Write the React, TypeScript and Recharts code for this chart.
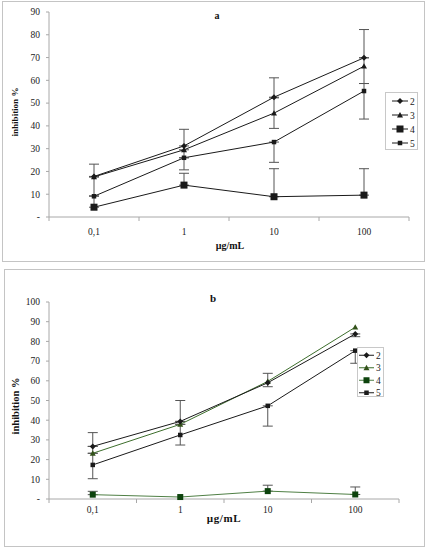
import React from 'react';
import { LineChart, Line, XAxis, YAxis, ErrorBar, Legend } from 'recharts';

// x categories (log concentration steps)
const categories = ['0,1', '1', '10', '100'];

// panel a
const a2 = [17.8, 31.2, 52.6, 69.9];
const a3 = [17.6, 29.5, 45.6, 66.2];
const a4 = [4.3, 14, 8.9, 9.6];
const a5 = [9.1, 26, 32.9, 55.3];
// error bars as [minus, plus]
const a2Err = [[0, 5.4], [0, 7.3], [0, 8.5], [0, 12.4]];
const a3Err = [[0, 0.2], [3.5, 0], [6.7, 6.7], [7.6, 3.7]];
const a4Err = [[0, 13.3], [0, 5.2], [0, 12.3], [0, 11.6]];
const a5Err = [[0, 0.2], [5.3, 0], [8.9, 0], [12.3, 3.3]];
const aTicks = [0, 10, 20, 30, 40, 50, 60, 70, 80, 90];

// panel b
const b2 = [26.7, 39.4, 59, 83.8];
const b3 = [23.2, 37.9, 59.7, 87.2];
const b4 = [2.2, 1, 4, 2.3];
const b5 = [17.3, 32.5, 47.3, 75.3];
const b2Err = [[0, 7], [0, 10.6], [2, 4.8], [1.4, 0]];
const b3Err = [[0, 3.5], [0, 1.5], null, null];
const b4Err = [[0, 1.7], null, [0, 3], [0, 3.8]];
const b5Err = [[7, 5.9], [5.1, 5.4], [10.3, 0], [6.4, 0]];
const bTicks = [0, 10, 20, 30, 40, 50, 60, 70, 80, 90, 100];

const seriesNames = ['2', '3', '4', '5'];

const xTicks = [-0.5, 0, 0.5, 1, 1.5, 2, 2.5, 3, 3.5];

const build = (s2, s3, s4, s5, e2, e3, e4, e5) =>
  categories.map((c, i) => ({
    x: i,
    label: c,
    s2: s2[i], s3: s3[i], s4: s4[i], s5: s5[i],
    e2: e2[i], e3: e3[i], e4: e4[i], e5: e5[i],
  }));

const dataA = build(a2, a3, a4, a5, a2Err, a3Err, a4Err, a5Err);
const dataB = build(b2, b3, b4, b5, b2Err, b3Err, b4Err, b5Err);

const AXIS = '#a8a8a8';
const ERR = '#555';
const FONT = '"Liberation Serif", "Times New Roman", serif';

function marker(kind, cx, cy, fill, big) {
  if (cx == null || cy == null) return null;
  if (kind === '2') {
    const r = 3;
    return <path d={`M${cx},${cy - r}L${cx + r},${cy}L${cx},${cy + r}L${cx - r},${cy}Z`} fill={fill} />;
  }
  if (kind === '3') {
    const r = 3;
    return <path d={`M${cx},${cy - r}L${cx + r},${cy + r * 0.8}L${cx - r},${cy + r * 0.8}Z`} fill={fill} />;
  }
  if (kind === '4') {
    const s = big;
    return <rect x={cx - s / 2} y={cy - s / 2} width={s} height={s} fill={fill} />;
  }
  const s = 4.5;
  return <rect x={cx - s / 2} y={cy - s / 2} width={s} height={s} fill={fill} />;
}

const makeDot = (kind, fill, big) => (props) => (
  <g key={`${kind}-${props.index}`}>{marker(kind, props.cx, props.cy, fill, big)}</g>
);

const makeTick = (dy) => (props) => {
  const { x, y, payload } = props;
  const v = payload.value;
  if (Number.isInteger(v)) {
    return (
      <text x={x} y={y + dy} textAnchor="middle" fontSize={9.5} fill="#222" fontFamily={FONT}>
        {categories[v]}
      </text>
    );
  }
  return <line x1={x} x2={x} y1={y} y2={y + 4} stroke={AXIS} />;
};

const makeLegend = (colors, marks, big, lg) => () => (
  <div style={{ width: lg.w, height: lg.h, border: '1px solid #c8c8c8', background: '#fff', boxSizing: 'border-box' }}>
    <svg width={lg.w - 2} height={lg.h - 2} style={{ overflow: 'visible', display: 'block' }}>
      {seriesNames.map((n, i) => {
        const cy = lg.rowH / 2 + 1 + i * lg.rowH;
        return (
          <g key={n}>
            <line x1={lg.x1} x2={lg.x2} y1={cy} y2={cy} stroke={colors[i]} />
            {marker(n, (lg.x1 + lg.x2) / 2, cy, marks[i], big)}
            <text x={lg.tx} y={cy + 3.5} fontSize={9.5} fontFamily={FONT} fill="#222">{n}</text>
          </g>
        );
      })}
    </svg>
  </div>
);

function Panel({ data, width, height, margin, yMax, yTicks, tickDy, colors, marks, big, legend }) {
  const keys = ['s4', 's5', 's3', 's2'];
  const errs = { s2: 'e2', s3: 'e3', s4: 'e4', s5: 'e5' };
  const idx = { s2: 0, s3: 1, s4: 2, s5: 3 };
  return (
    <LineChart width={width} height={height} data={data} margin={margin}>
      <XAxis
        dataKey="x"
        type="number"
        domain={[-0.5, 3.5]}
        ticks={xTicks}
        interval={0}
        tickSize={0}
        tickMargin={0}
        tickLine={false}
        tick={makeTick(tickDy)}
        axisLine={{ stroke: AXIS }}
        height={legend.xh}
      />
      <YAxis
        type="number"
        domain={[0, yMax]}
        ticks={yTicks}
        interval={0}
        width={40}
        tickSize={3}
        tickMargin={6}
        axisLine={{ stroke: AXIS }}
        tickLine={{ stroke: AXIS }}
        tick={{ fontSize: 9.5, fill: '#222', fontFamily: FONT }}
        tickFormatter={(v) => (v === 0 ? '-' : String(v))}
      />
      <Legend
        layout="vertical"
        align="center"
        verticalAlign="middle"
        wrapperStyle={{ position: 'absolute', left: legend.left, top: legend.top, width: legend.w, height: legend.h }}
        content={makeLegend(colors, marks, big, legend)}
      />
      {keys.map((k) => {
        const i = idx[k];
        return (
          <Line
            key={k}
            dataKey={k}
            name={seriesNames[i]}
            type="linear"
            stroke={colors[i]}
            strokeWidth={1}
            dot={makeDot(seriesNames[i], marks[i], big)}
            activeDot={false}
            isAnimationActive={false}
          >
            <ErrorBar dataKey={errs[k]} width={5} stroke={ERR} strokeWidth={1} direction="y" />
          </Line>
        );
      })}
    </LineChart>
  );
}

export default function App() {
  const blackCols = ['#1a1a1a', '#1a1a1a', '#1a1a1a', '#1a1a1a'];
  const greenCols = ['#1a1a1a', '#3d6e2c', '#4f7f45', '#1a1a1a'];
  const greenMarks = ['#1a1a1a', '#33521a', '#0d430d', '#1a1a1a'];
  return (
    <div style={{ position: 'absolute', left: 0, top: 0, width: 429, height: 550, background: '#fff', fontFamily: FONT }}>
      <div style={{ position: 'absolute', left: 2, top: 1, width: 423, height: 261, border: '1px solid #c4c4c4', boxSizing: 'border-box' }} />
      <div style={{ position: 'absolute', left: 4, top: 269, width: 421, height: 278, border: '1px solid #c4c4c4', boxSizing: 'border-box' }} />

      <div style={{ position: 'absolute', left: 0, top: 0 }}>
        <Panel
          data={dataA}
          width={429}
          height={262}
          margin={{ top: 12, right: 20, bottom: 11, left: 9 }}
          yMax={90}
          yTicks={aTicks}
          tickDy={17.5}
          colors={blackCols}
          marks={blackCols}
          big={7}
          legend={{ left: 385, top: 92, w: 33, h: 58, rowH: 14, xh: 34, x1: 6, x2: 22, tx: 24 }}
        />
      </div>

      <div style={{ position: 'absolute', left: 0, top: 262 }}>
        <Panel
          data={dataB}
          width={429}
          height={288}
          margin={{ top: 40, right: 30, bottom: 26, left: 9 }}
          yMax={100}
          yTicks={bTicks}
          tickDy={13.5}
          colors={greenCols}
          marks={greenMarks}
          big={6}
          legend={{ left: 357, top: 85, w: 27, h: 50, rowH: 12.5, xh: 25, x1: 1, x2: 16, tx: 18 }}
        />
      </div>

      <svg width={429} height={550} style={{ position: 'absolute', left: 0, top: 0, pointerEvents: 'none' }}>
        <g fontFamily={FONT} fontWeight="bold" fill="#111" textAnchor="middle">
          <text x={217} y={19} fontSize={10}>a</text>
          <text x={230} y={248.5} fontSize={10}>µg/mL</text>
          <text x={15} y={112} fontSize={9} transform="rotate(-90 15 112)" dominantBaseline="central">inhibition %</text>
          <text x={213} y={302} fontSize={11}>b</text>
          <text x={224} y={522} fontSize={11} letterSpacing={0.6}>µg/mL</text>
          <text x={15} y={406} fontSize={10.5} transform="rotate(-90 15 406)" dominantBaseline="central">inhibition %</text>
        </g>
      </svg>
    </div>
  );
}
